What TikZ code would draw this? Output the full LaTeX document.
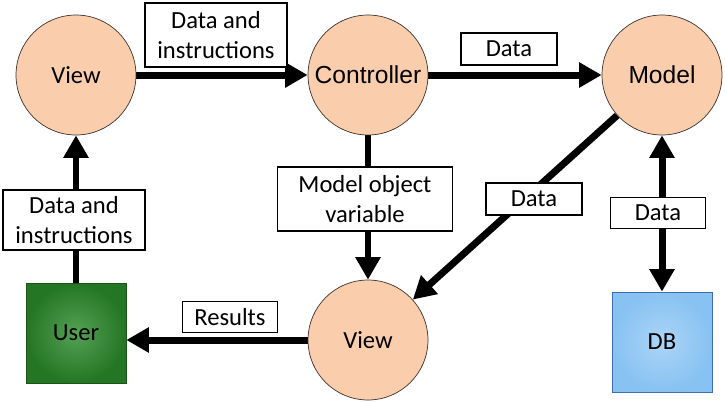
\documentclass[tikz,border=0pt]{standalone}
\usepackage{fontspec}
\setmainfont{Carlito}
\newfontfamily\arialfont{Liberation Sans}
\usepackage{tikz}
\usetikzlibrary{arrows.meta,backgrounds}
\definecolor{peachfill}{RGB}{250,206,172}
\definecolor{peachdraw}{RGB}{60,50,45}
\definecolor{usergreen}{RGB}{42,138,42}
\definecolor{userdraw}{RGB}{25,85,25}
\definecolor{dbblue}{RGB}{135,194,242}
\definecolor{dbdraw}{RGB}{60,110,170}

\begin{document}
\begin{tikzpicture}[x=0.02cm,y=-0.02cm,every node/.style={font=\fontsize{14}{17}\selectfont},
    part/.style={circle,draw=peachdraw,fill=peachfill,minimum size=2.4cm,inner sep=0pt},
    store/.style={draw,minimum width=2cm,minimum height=2cm,inner sep=0pt},
    msg/.style={draw=black,fill=white,align=center,inner sep=0pt,line width=0.6pt},
    flow/.style={-{Triangle[length=0.45cm,width=0.48cm]},line width=0.14cm},
    biflow/.style={{Triangle[length=0.45cm,width=0.48cm]}-{Triangle[length=0.45cm,width=0.48cm]},line width=0.14cm}]
    \useasboundingbox (0,0) rectangle (725,403);
    \node[part] (viewT) at (76,75) {View};
    \node[part] (ctrl) at (368,75) {\arialfont Controller};
    \node[part] (model) at (662,75) {\arialfont Model};
    \node[part] (viewB) at (368,340) {View};
    \node[store,draw=userdraw,inner color=usergreen!80!white,outer color=usergreen!85!black] (user) at (76,333) {User};
    \node[store,draw=dbdraw,inner color=dbblue!70!white,outer color=dbblue] (db) at (662,342) {DB};
    \node[msg,minimum width=2.84cm,minimum height=1.28cm] (lblDataInstrTop) at (216,35) {Data and\\instructions};
    \node[msg,minimum width=1.92cm,minimum height=0.64cm] (lblDataTop) at (509,49) {Data};
    \node[msg,minimum width=3.5cm,minimum height=1.28cm] (lblObject) at (365,199) {Model object\\variable};
    \node[msg,minimum width=2.84cm,minimum height=1.2cm] (lblDataInstrLeft) at (74,220) {Data and\\instructions};
    \node[msg,minimum width=1.9cm,minimum height=0.62cm] (lblResults) at (230,317) {Results};
    \node[msg,minimum width=1.92cm,minimum height=0.64cm] (lblDataDiag) at (534,199) {Data};
    \node[msg,minimum width=1.9cm,minimum height=0.62cm] (lblDataDB) at (658,213) {Data};
    \begin{scope}[on background layer]
      \draw[flow] (viewT) -- (ctrl);
      \draw[flow] (ctrl) -- (model);
      \draw[flow] (ctrl) -- (viewB);
      \draw[flow] (model) -- (viewB);
      \draw[biflow] (model) -- (db);
      \draw[flow] (user) -- (viewT);
      \draw[flow] (viewB) -- (viewB -| user.east);
    \end{scope}
  \end{tikzpicture}
\end{document}
